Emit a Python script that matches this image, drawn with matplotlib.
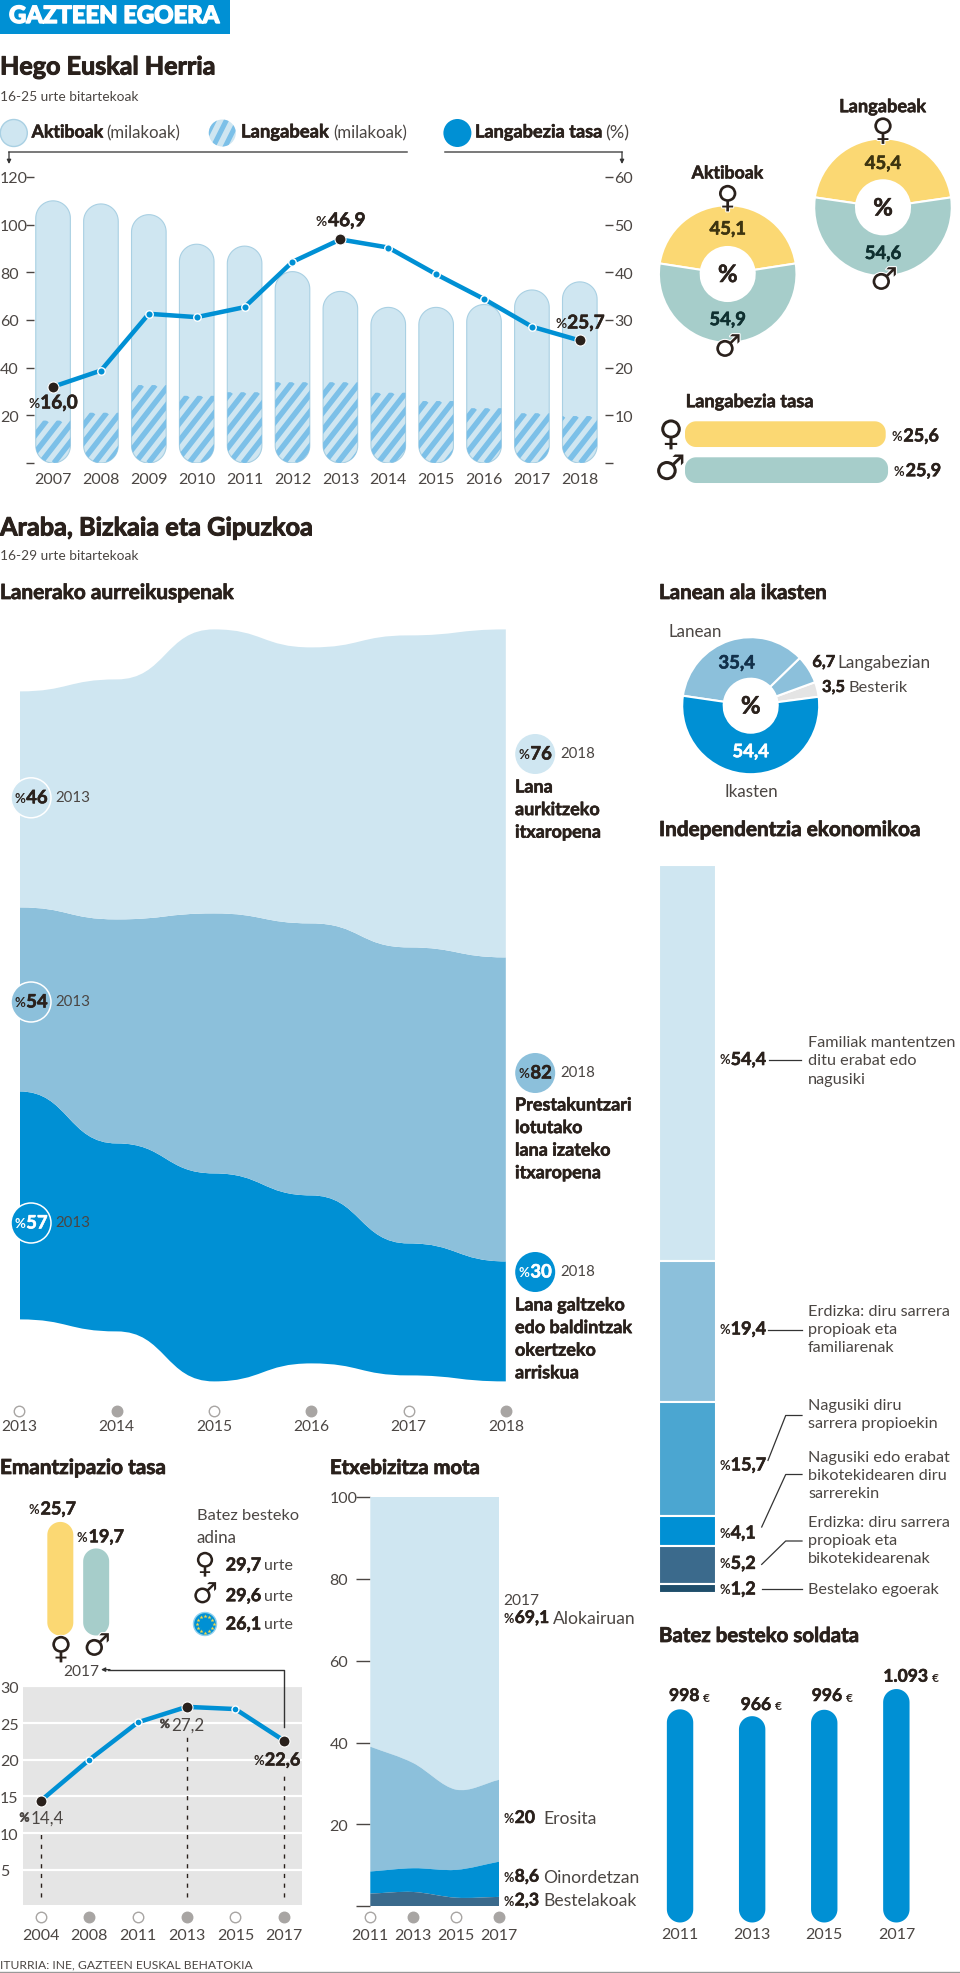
import numpy as np
import matplotlib
matplotlib.use('Agg')
import matplotlib.pyplot as plt
from matplotlib.patches import Polygon, PathPatch, Circle, Rectangle
from matplotlib.path import Path
from matplotlib.transforms import IdentityTransform
import matplotlib.patheffects as pe

# ---------- data ----------
years_top = list(range(2007, 2019))
aktiboak = [110, 108.7, 104.2, 91.8, 91, 80.3, 72, 65.3, 65.3, 66.5, 72.6, 76]
langabeak = [17.8, 21.1, 32.7, 28.2, 29.7, 33.9, 33.9, 29.5, 26, 23, 20.9, 19.7]
tasa = [16.0, 19.4, 31.3, 30.6, 32.7, 42.2, 46.9, 45.2, 39.6, 34.4, 28.6, 25.7]
donut_aktibo = [45.1, 54.9]
donut_langabe = [45.4, 54.6]
tasa_sex = [25.6, 25.9]

stream_years = [2013, 2014, 2015, 2016, 2017, 2018]
stream_bottom = [57, 47, 52, 42, 33, 30]
stream_mid = [46, 56, 65, 68, 74, 76]
stream_top = [54, 60, 71, 69, 78, 82]

lanean_vals = [3.5, 6.7, 35.4, 54.4]
indep_vals = [54.4, 19.4, 15.7, 4.1, 5.2, 1.2]
indep_labels = ['54,4', '19,4', '15,7', '4,1', '5,2', '1,2']

soldata_years = ['2011', '2013', '2015', '2017']
soldata_vals = [998, 966, 996, 1093]
soldata_text = ['998', '966', '996', '1.093']

eman_sex = [25.7, 19.7]
eman_years = ['2004', '2008', '2011', '2013', '2015', '2017']
eman_vals = [14.4, 20, 25.1, 27.2, 26.9, 22.6]

etxe_years = [2011, 2013, 2015, 2017]
etxe_beste = [3.1, 3.5, 2.1, 2.3]
etxe_oinor = [5.4, 5.8, 6.8, 8.6]
etxe_eros = [30.5, 25.7, 19.6, 20.0]
etxe_aloka = [61.0, 65.0, 71.5, 69.1]

# ---------- style ----------
W, H = 960, 1974
PT = 0.72
DARK = '#2a211c'
GREY = '#4b4643'
BLUE = '#0090d4'
PALE = '#cfe6f1'
MID = '#8cc0db'
YEL = '#fbd873'
TEAL = '#a6cdca'
STRIPE = '#7cc0e8'
BASE = ['Lato', 'DejaVu Sans']
plt.rcParams['font.family'] = BASE

fig = plt.figure(figsize=(W / 100, H / 100), dpi=100, facecolor='white')
rend = fig.canvas.get_renderer()


def axpx(x0, y0, x1, y1, **kw):
    ax = fig.add_axes([x0 / W, 1 - y1 / H, (x1 - x0) / W, (y1 - y0) / H], **kw)
    ax.patch.set_alpha(0)
    ax.set_autoscale_on(False)
    for s in ax.spines.values():
        s.set_visible(False)
    return ax


def rrect(ax, x0, x1, y0, y1, r, top=True, bottom=True, **kw):
    """rounded rectangle in data units, r in px"""
    p = ax.get_position()
    xl, yl = ax.get_xlim(), ax.get_ylim()
    sx = abs(p.width * W / (xl[1] - xl[0]))
    sy = abs(p.height * H / (yl[1] - yl[0]))
    rx, ry = r / sx, r / sy
    t = np.linspace(0, np.pi / 2, 16)
    pts = []
    if top:
        pts += list(zip(x1 - rx + rx * np.cos(t), y1 - ry + ry * np.sin(t)))
        pts += list(zip(x0 + rx - rx * np.sin(t), y1 - ry + ry * np.cos(t)))
    else:
        pts += [(x1, y1), (x0, y1)]
    if bottom:
        pts += list(zip(x0 + rx - rx * np.cos(t), y0 + ry - ry * np.sin(t)))
        pts += list(zip(x1 - rx + rx * np.sin(t), y0 + ry - ry * np.cos(t)))
    else:
        pts += [(x0, y0), (x1, y0)]
    poly = Polygon(pts, closed=True, **kw)
    ax.add_patch(poly)
    return poly


def stripes(ax, patch, x0, x1, y0, y1, z=3):
    a = ax.transData.transform((x0, y0))
    b = ax.transData.transform((x1, y1))
    xa, xb = sorted((a[0], b[0]))
    ya, yb = sorted((a[1], b[1]))
    h = yb - ya
    slant = 0.78
    start = xa - h * slant - ((xa - h * slant) % 13.5)
    for xs in np.arange(start, xb + 14, 13.5):
        ln, = ax.plot([xs, xs + h * slant], [ya, yb], color=STRIPE, lw=5.4 * PT,
                      transform=IdentityTransform(), solid_capstyle='butt', zorder=z)
        ln.set_clip_path(patch)


def ribbon(ax, xs, low, up, color, z=2, smooth=False):
    """smooth band; horizontal tangents at each point, or Catmull-Rom tangents"""
    xs = list(xs)
    n = len(xs)

    def seg(ys, order):
        out = []
        idx = list(order)
        m = np.gradient(ys) if smooth else np.zeros(n)
        for i, j in zip(idx[:-1], idx[1:]):
            d = (j - i)
            dx = xs[j] - xs[i]
            if smooth:
                out += [(xs[i] + dx / 3, ys[i] + d * m[i] / 3), (xs[j] - dx / 3, ys[j] - d * m[j] / 3), (xs[j], ys[j])]
            else:
                out += [(xs[i] + dx / 2, ys[i]), (xs[j] - dx / 2, ys[j]), (xs[j], ys[j])]
        return out

    up = np.asarray(up, float)
    low = np.asarray(low, float)
    v = [(xs[0], up[0])]
    c = [Path.MOVETO]
    s = seg(up, range(n))
    v += s
    c += [Path.CURVE4] * len(s)
    v.append((xs[-1], low[-1]))
    c.append(Path.LINETO)
    s = seg(low, range(n - 1, -1, -1))
    v += s
    c += [Path.CURVE4] * len(s)
    v.append(v[0])
    c.append(Path.CLOSEPOLY)
    ax.add_patch(PathPatch(Path(v, c), fc=color, ec='none', zorder=z))


def year_dots(ax, xs, ypx):
    p = ax.get_position()
    top = (1 - p.y1) * H
    frac = 1 - (ypx - top) / (p.height * H)
    for i, x in enumerate(xs):
        filled = i % 2 == 1
        ax.plot([x], [frac], 'o', ms=10.5 * PT, mfc='#a8a5a3' if filled else 'white',
                mec='#a8a5a3', mew=1.0, transform=ax.get_xaxis_transform(), clip_on=False, zorder=5)


ov = fig.add_axes([0, 0, 1, 1], zorder=20)
ov.set_xlim(0, W)
ov.set_ylim(H, 0)
ov.axis('off')
ov.patch.set_alpha(0)


def T(x, y, s, size=15, weight='normal', color=DARK, ha='left', va='center', fam=None, width=None, heavy=None, **kw):
    t = ov.text(x, y, s, fontsize=size * PT, fontweight=weight, color=color, ha=ha, va=va,
                family=fam if fam else BASE, **kw)
    if heavy is None and weight in ('bold', 'black'):
        heavy = 0.4
    if heavy:
        t.set_path_effects([pe.withStroke(linewidth=heavy, foreground=color)])
    if width:
        w = t.get_window_extent(rend).width
        t.set_fontsize(size * PT * width / w)
    return t


def P(x, y, num, size=18, color=DARK, ha='left', weight='bold'):
    """%-prefixed value: small %, bold number"""
    a = T(0, y, '%', size=size * 0.72, weight='bold', color=color, heavy=0 if weight == 'bold' else None)
    b = T(0, y, num, size=size, weight=weight, color=color)
    wa = a.get_window_extent(rend).width
    wb = b.get_window_extent(rend).width
    tot = wa + wb + 1
    x0 = x if ha == 'left' else (x - tot / 2 if ha == 'center' else x - tot)
    a.set_x(x0)
    b.set_x(x0 + wa + 1)
    return x0 + tot


def SYM(x, y, s, size=31):
    T(x, y, s, size=size, ha='center', fam='DejaVu Sans', color=DARK,
      path_effects=[pe.withStroke(linewidth=1.5, foreground='white')])


def donut(cx, cy, r, ri, vals, colors, start):
    ex = 1.03
    ax = axpx(cx - r * ex, cy - r * ex, cx + r * ex, cy + r * ex)
    ax.pie(vals, colors=colors, radius=1, startangle=start, counterclock=True,
           wedgeprops=dict(width=1 - ri / r, edgecolor='white', linewidth=1.5))
    ax.set_xlim(-ex, ex)
    ax.set_ylim(-ex, ex)
    return ax


# ---------- header ----------
ov.add_patch(Rectangle((0, 0), 229.5, 35, fc=BLUE, ec='none'))
T(9, 16.5, 'GAZTEEN EGOERA', size=21, weight='black', color='white', width=211, heavy=1.0)
T(0, 68, 'Hego Euskal Herria', size=26, weight='bold', width=216, heavy=0.7)
T(0, 97, '16-25 urte bitartekoak', size=15, color=GREY, width=137)

# legend
ov.add_patch(Circle((13.8, 134), 13.5, fc=PALE, ec='#a9d0e3', lw=1))
T(31.6, 133, 'Aktiboak', size=18, weight='bold', width=72)
T(106.7, 133, '(milakoak)', size=18, color=GREY, width=74)
leg = Circle((222.3, 134), 13.5, fc=PALE, ec='none')
ov.add_patch(leg)
for xs in np.arange(200, 245, 12):
    ln, = ov.plot([xs, xs + 16], [150, 118], color=STRIPE, lw=5 * PT, solid_capstyle='butt')
    ln.set_clip_path(leg)
T(241, 133, 'Langabeak', size=18, weight='bold', width=88)
T(333, 133, '(milakoak)', size=18, color=GREY, width=74)
ov.add_patch(Circle((457.4, 134), 14, fc=BLUE, ec='none'))
T(475, 133, 'Langabezia tasa', size=18, weight='bold', width=127.5)
T(605.5, 133, '(%)', size=18, color=GREY, width=24)
for xs in ([9, 407], [444.5, 622]):
    ov.plot(xs, [153, 153], color='#555', lw=1.1)
for x in (9, 622):
    ov.annotate('', xy=(x, 165), xytext=(x, 153),
                arrowprops=dict(arrowstyle='-|>', color='#333', lw=0.9, mutation_scale=6, shrinkA=0, shrinkB=0))

# ---------- top chart ----------
X07, X18 = 53.06, 579.8
STEP = (X18 - X07) / 11
AL, AR = 33.6, 604.5
a0 = axpx(AL, 178, AR, 464)
a0.set_xlim(2007 + (AL - X07) / STEP, 2007 + (AR - X07) / STEP)
a0.set_ylim(0, 120)
hw = 17.3 / STEP
for y, ak, la in zip(years_top, aktiboak, langabeak):
    rrect(a0, y - hw, y + hw, 0, ak, 17.3, fc=PALE, ec='none', zorder=1)
    pp = rrect(a0, y - hw, y + hw, 0, la, 17.3, top=False, fc=PALE, ec='none', zorder=2)
    stripes(a0, pp, y - hw, y + hw, 0, la)
    rrect(a0, y - hw, y + hw, 0, ak, 17.3, fc='none', ec='#a9d0e3', lw=0.8, zorder=2.5)
a0.set_xticks(years_top)
a0.set_xticklabels([str(y) for y in years_top], fontsize=16 * PT, color=GREY)
a0.tick_params(axis='x', length=0, pad=9 * PT)
a0.set_yticks([0, 20, 40, 60, 80, 100, 120])
a0.set_yticklabels(['', '20', '40', '60', '80', '100', '120'], fontsize=16 * PT, color=GREY, ha='left')
a0.tick_params(axis='y', length=8 * PT, width=1, color=GREY, pad=25.6 * PT)

a1 = a0.twinx()
a1.patch.set_alpha(0)
for s in a1.spines.values():
    s.set_visible(False)
a1.set_autoscale_on(False)
a1.set_ylim(0, 60)
a1.set_yticks([0, 10, 20, 30, 40, 50, 60])
a1.set_yticklabels(['', '10', '20', '30', '40', '50', '60'], fontsize=16 * PT, color=GREY)
a1.tick_params(axis='y', length=8 * PT, width=1, color=GREY, pad=2 * PT)
a1.plot(years_top, tasa, color=BLUE, lw=4.5 * PT, zorder=3, solid_joinstyle='round')
a1.plot(years_top, tasa, 'o', ms=7.5 * PT, mfc=BLUE, mec='white', mew=1.0, zorder=4)
hi = [0, 6, 11]
a1.plot([years_top[i] for i in hi], [tasa[i] for i in hi], 'o', ms=11 * PT, mfc=DARK, mec='white', mew=0.8, zorder=5)
P(53, 404, '16,0', ha='center', size=19)
P(340.8, 221.7, '46,9', ha='center', size=19)
P(580, 324, '25,7', ha='center', size=19)

# donuts top-right
donut(727.7, 275, 68.8, 27, donut_aktibo, [YEL, TEAL], 90 - donut_aktibo[0] * 1.8)
donut(883, 208.3, 68.8, 27, donut_langabe, [YEL, TEAL], 90 - donut_langabe[0] * 1.8)
T(727.7, 174, 'Aktiboak', size=18, weight='bold', ha='center', width=72)
T(883, 107.7, 'Langabeak', size=18, weight='bold', ha='center', width=87)
T(727.7, 230, '45,1', size=18.5, weight='bold', ha='center', color='#3d3410')
T(727.7, 320.7, '54,9', size=18.5, weight='bold', ha='center', color='#0f3030')
T(727.7, 275.5, '%', size=24, weight='bold', ha='center')
T(883, 164.5, '45,4', size=18.5, weight='bold', ha='center', color='#3d3410')
T(883, 254.5, '54,6', size=18.5, weight='bold', ha='center', color='#0f3030')
T(883, 209, '%', size=24, weight='bold', ha='center')
SYM(727.7, 200, '♀')
SYM(727.7, 349, '♂')
SYM(883, 132.5, '♀')
SYM(884, 282, '♂')

T(685.7, 402.7, 'Langabezia tasa', size=17, weight='bold', width=127)
ab = axpx(685, 417.15, 900, 489.15)
ab.set_xlim(0, 215 / 7.84)
ab.set_ylim(-0.5, 1.5)
ab.axis('off')
for i, (v, c) in enumerate(zip(tasa_sex, [YEL, TEAL])):
    rrect(ab, 0, v, (1 - i) - 0.357, (1 - i) + 0.357, 11, fc=c, ec='none')
SYM(671, 436, '♀', size=35)
SYM(670, 470.7, '♂', size=35)
P(891.7, 437, '25,6', size=18)
P(894, 471.7, '25,9', size=18)

# ---------- section 2 ----------
T(0, 529, 'Araba, Bizkaia eta Gipuzkoa', size=26, weight='bold', width=313, heavy=0.7)
T(0, 555.7, '16-29 urte bitartekoak', size=15, color=GREY, width=137)
T(0, 594, 'Lanerako aurreikuspenak', size=20, weight='bold', width=234, heavy=0.55)

# stream
CY = 1006.4
SC = 4.0
SL, SR = 19.5, 505.8
a2 = axpx(SL, 600, SR, 1400)
a2.set_xlim(2013, 2018)
a2.set_ylim((CY - 1400) / SC, (CY - 600) / SC)
total = np.array(stream_bottom) + np.array(stream_mid) + np.array(stream_top)
b0 = -total / 2
b1 = b0 + np.array(stream_bottom)
b2 = b1 + np.array(stream_mid)
b3 = b2 + np.array(stream_top)
ribbon(a2, stream_years, b0, b1, BLUE)
ribbon(a2, stream_years, b1, b2, MID)
ribbon(a2, stream_years, b2, b3, PALE)
a2.set_yticks([])
a2.set_xticks(stream_years)
a2.set_xticklabels([str(y) for y in stream_years], fontsize=15.5 * PT, color=GREY)
a2.tick_params(axis='x', length=0, pad=20 * PT)
year_dots(a2, stream_years, 1412)

for cy, c, num, tc in ((798.8, PALE, '46', DARK), (1003, MID, '54', DARK), (1224, BLUE, '57', 'white')):
    ov.add_patch(Circle((31, cy), 20, fc=c, ec='white', lw=1.1))
    P(31, cy, num, ha='center', size=18.5, color=tc)
    T(55.5, cy - 1, '2013', size=15, color=GREY)
for cy, c, num, tc in ((755, PALE, '76', DARK), (1074, MID, '82', DARK), (1273, BLUE, '30', 'white')):
    ov.add_patch(Circle((535.2, cy), 20, fc=c, ec='none'))
    P(535.2, cy, num, ha='center', size=18.5, color=tc)
    T(560.5, cy - 1, '2018', size=15, color=GREY)
for y0, lines in ((788, ['Lana', 'aurkitzeko', 'itxaropena']),
                  (1106, ['Prestakuntzari', 'lotutako', 'lana izateko', 'itxaropena']),
                  (1306, ['Lana galtzeko', 'edo baldintzak', 'okertzeko', 'arriskua'])):
    for i, l in enumerate(lines):
        T(515, y0 + i * 22.6, l, size=18, weight='bold')

# lanean donut
donut(750.7, 706.7, 68.5, 27, lanean_vals, ['#e4e4e4', MID, MID, BLUE], 7.5)
T(659, 594, 'Lanean ala ikasten', size=20, weight='bold', width=168, heavy=0.55)
T(695, 632, 'Lanean', size=17, ha='center', color=GREY)
T(736.7, 664, '35,4', size=18.5, weight='bold', ha='center', color='#12304a')
T(812.3, 663, '6,7', size=16.5, weight='bold')
T(837.3, 663, 'Langabezian', size=17, color=GREY, width=93)
T(822, 688, '3,5', size=16.5, weight='bold')
T(848, 688, 'Besterik', size=17, color=GREY, width=59)
T(750.7, 707, '%', size=24, weight='bold', ha='center')
T(750.7, 752.7, '54,4', size=18.5, weight='bold', ha='center', color='white')
T(751, 791.7, 'Ikasten', size=17, ha='center', color=GREY)

# independentzia
T(659, 831, 'Independentzia ekonomikoa', size=20, weight='bold', width=262, heavy=0.55)
a3 = axpx(659, 865.7, 715.7, 1593.7)
a3.set_xlim(0, 1)
a3.set_ylim(100, 0)
a3.axis('off')
a3.bar([0.5] * 6, indep_vals, bottom=np.cumsum([0] + indep_vals[:-1]), width=1,
       color=[PALE, MID, '#4ba6d1', BLUE, '#3b6a8c', '#1f4e6b'], edgecolor='white', linewidth=1.5)
for y, s in zip((1060.5, 1330, 1466, 1534, 1564.4, 1590), indep_labels):
    P(719, y, s, size=18)
LC = '#333'
ov.plot([769, 801], [1061, 1061], color=LC, lw=0.9)
ov.plot([768, 802], [1331, 1331], color=LC, lw=0.9)
ov.plot([768, 785.7, 802], [1461.4, 1416.5, 1416.5], color=LC, lw=0.9)
ov.plot([761.7, 785.7, 802], [1528, 1475.5, 1475.5], color=LC, lw=0.9)
ov.plot([761.7, 785.7, 802], [1565.4, 1542, 1542], color=LC, lw=0.9)
ov.plot([761.7, 802], [1590, 1590], color=LC, lw=0.9)
for y0, lines in ((1043, ['Familiak mantentzen', 'ditu erabat edo', 'nagusiki']),
                  (1311.6, ['Erdizka: diru sarrera', 'propioak eta', 'familiarenak']),
                  (1405.7, ['Nagusiki diru', 'sarrera propioekin']),
                  (1457.7, ['Nagusiki edo erabat', 'bikotekidearen diru', 'sarrerekin']),
                  (1522.8, ['Erdizka: diru sarrera', 'propioak eta', 'bikotekidearenak']),
                  (1590, ['Bestelako egoerak'])):
    for i, l in enumerate(lines):
        T(808, y0 + i * 18.3, l, size=16.3, color=GREY)

# soldata
T(659, 1637, 'Batez besteko soldata', size=20, weight='bold', width=200, heavy=0.55)
a4 = axpx(644, 1923.5 - 1200 * 0.2136, 932.4, 1923.5)
a4.set_xlim(-0.5, 3.5)
a4.set_ylim(0, 1200)
for i, v in enumerate(soldata_vals):
    rrect(a4, i - 13.2 / 72.1, i + 13.2 / 72.1, 0, v, 13.2, fc=BLUE, ec='none')
a4.set_yticks([])
a4.set_xticks(range(4))
a4.set_xticklabels(soldata_years, fontsize=16 * PT, color=GREY)
a4.tick_params(axis='x', length=0, pad=5 * PT)
for x, y, s in zip((669, 740.7, 811.7, 883.3), (1697, 1706, 1697, 1677.7), soldata_text):
    t = T(x, y, s, size=17.5, weight='bold')
    w = t.get_window_extent(rend).width
    T(x + w + 4, y + 1, '€', size=12, weight='bold', heavy=0)

# emantzipazio
T(0, 1469, 'Emantzipazio tasa', size=20, weight='bold', width=166, heavy=0.55)
a5 = axpx(42.4, 1636.5 - 30 * 4.42, 114.1, 1636.5)
a5.set_xlim(-0.5, 1.5)
a5.set_ylim(0, 30)
a5.axis('off')
for i, (v, c) in enumerate(zip(eman_sex, [YEL, TEAL])):
    rrect(a5, i - 13 / 35.85, i + 13 / 35.85, 0, v, 13, fc=c, ec='none')
P(76, 1510, '25,7', size=18, ha='right')
P(124, 1537.8, '19,7', size=18, ha='right')
SYM(61, 1651, '♀')
SYM(97, 1648, '♂')
T(196.7, 1515.6, 'Batez besteko', size=17, color=GREY, width=102)
T(196.7, 1538, 'adina', size=17, color=GREY)
SYM(205, 1566, '♀', size=29)
SYM(205, 1596, '♂', size=29)
ov.add_patch(Circle((205, 1625), 11.5, fc=BLUE, ec='#8fd0ee', lw=1))
ang = np.arange(12) * np.pi / 6
ov.plot(205 + 8.5 * np.cos(ang), 1625 + 8.5 * np.sin(ang), '*', ms=3, color='#f4d84a', mew=0)
for y, v in ((1566, '29,7'), (1596.7, '29,6'), (1625, '26,1')):
    t = T(225.7, y, v, size=18, weight='bold')
    w = t.get_window_extent(rend).width
    T(225.7 + w + 3, y, 'urte', size=16, color=GREY)

a6 = axpx(22.7, 1687.3, 302, 1905.6)
a6.set_facecolor('#e5e5e5')
a6.patch.set_alpha(1)
xs6 = np.arange(6)
a6.set_xlim((22.7 - 40.7) / 48.66, (302 - 40.7) / 48.66)
a6.set_ylim(0.26, 30)
a6.set_yticks([5, 10, 15, 20, 25, 30])
a6.set_yticklabels(['5', '10', '15', '20', '25', '30'], fontsize=16 * PT, color=GREY, ha='left')
a6.tick_params(axis='y', length=0, pad=22.7 * PT)
a6.grid(axis='y', color='white', lw=1.6)
a6.set_axisbelow(True)
a6.set_xticks(xs6)
a6.set_xticklabels(eman_years, fontsize=16 * PT, color=GREY)
a6.tick_params(axis='x', length=0, pad=23 * PT)
year_dots(a6, xs6, 1918)
a6.plot(xs6, eman_vals, color=BLUE, lw=4.5 * PT, zorder=3, clip_on=False)
a6.plot(xs6, eman_vals, 'o', ms=7 * PT, mfc=BLUE, mec='white', mew=1, zorder=4)
hi6 = [0, 3, 5]
a6.plot(xs6[hi6], np.array(eman_vals)[hi6], 'o', ms=11 * PT, mfc=DARK, mec='white', mew=0.8, zorder=5)
for i, v in zip(hi6, (10.4, 23.1, 18.5)):
    a6.plot([i, i], [1.3, v], color=DARK, lw=1, dashes=(3, 4), zorder=3)
P(41.7, 1819, '14,4', size=17, ha='center', weight='normal', color=GREY)
P(182, 1725.4, '27,2', size=17, ha='center', weight='normal', color=GREY)
P(276.7, 1761, '22,6', size=18, ha='center')
ov.plot([284, 284, 108], [1728, 1670.6, 1670.6], color='#333', lw=1)
ov.annotate('', xy=(101, 1670.6), xytext=(110, 1670.6),
            arrowprops=dict(arrowstyle='-|>', color='#333', lw=0.9, mutation_scale=6, shrinkA=0, shrinkB=0))
T(81, 1672, '2017', size=15.5, ha='center', color=GREY)

# etxebizitza
T(330, 1469, 'Etxebizitza mota', size=20, weight='bold', width=150, heavy=0.55)
a7 = axpx(370.3, 1498, 499, 1907.3)
a7.set_xlim(2011, 2017)
a7.set_ylim(0, 100)
c0 = np.zeros(4)
c1 = c0 + etxe_beste
c2 = c1 + etxe_oinor
c3 = c2 + etxe_eros
c4 = c3 + etxe_aloka
ribbon(a7, etxe_years, c3, c4, PALE, smooth=True)
ribbon(a7, etxe_years, c2, c3, MID, smooth=True)
ribbon(a7, etxe_years, c1, c2, BLUE, smooth=True)
ribbon(a7, etxe_years, c0, c1, '#3b6a8c', smooth=True)
a7.set_yticks([0, 20, 40, 60, 80, 100])
a7.set_yticklabels(['', '20', '40', '60', '80', '100'], fontsize=16 * PT, color=GREY, ha='left')
a7.tick_params(axis='y', length=14.3 * PT, width=1, color=GREY, pad=26.7 * PT)
a7.set_xticks(etxe_years)
a7.set_xticklabels([str(y) for y in etxe_years], fontsize=16 * PT, color=GREY)
a7.tick_params(axis='x', length=0, pad=21.4 * PT)
year_dots(a7, etxe_years, 1918)
T(503.3, 1600.8, '2017', size=15.5, color=GREY)
P(503.3, 1619, '69,1', size=17.5)
T(552.7, 1619, 'Alokairuan', size=17.5, color=GREY)
P(503.3, 1819, '20', size=17.5)
T(543.3, 1819, 'Erosita', size=17.5, color=GREY)
P(503.3, 1877.7, '8,6', size=17.5)
T(543.3, 1877.7, 'Oinordetzan', size=17.5, color=GREY)
P(503.3, 1901.5, '2,3', size=17.5)
T(543.3, 1901.5, 'Bestelakoak', size=17.5, color=GREY)

# footer
T(0, 1964.5, 'ITURRIA: INE, GAZTEEN EUSKAL BEHATOKIA', size=14, color=GREY, width=253)
ov.plot([0, 960], [1973, 1973], color='#999', lw=1)

fig.savefig('out.png', dpi=100)
